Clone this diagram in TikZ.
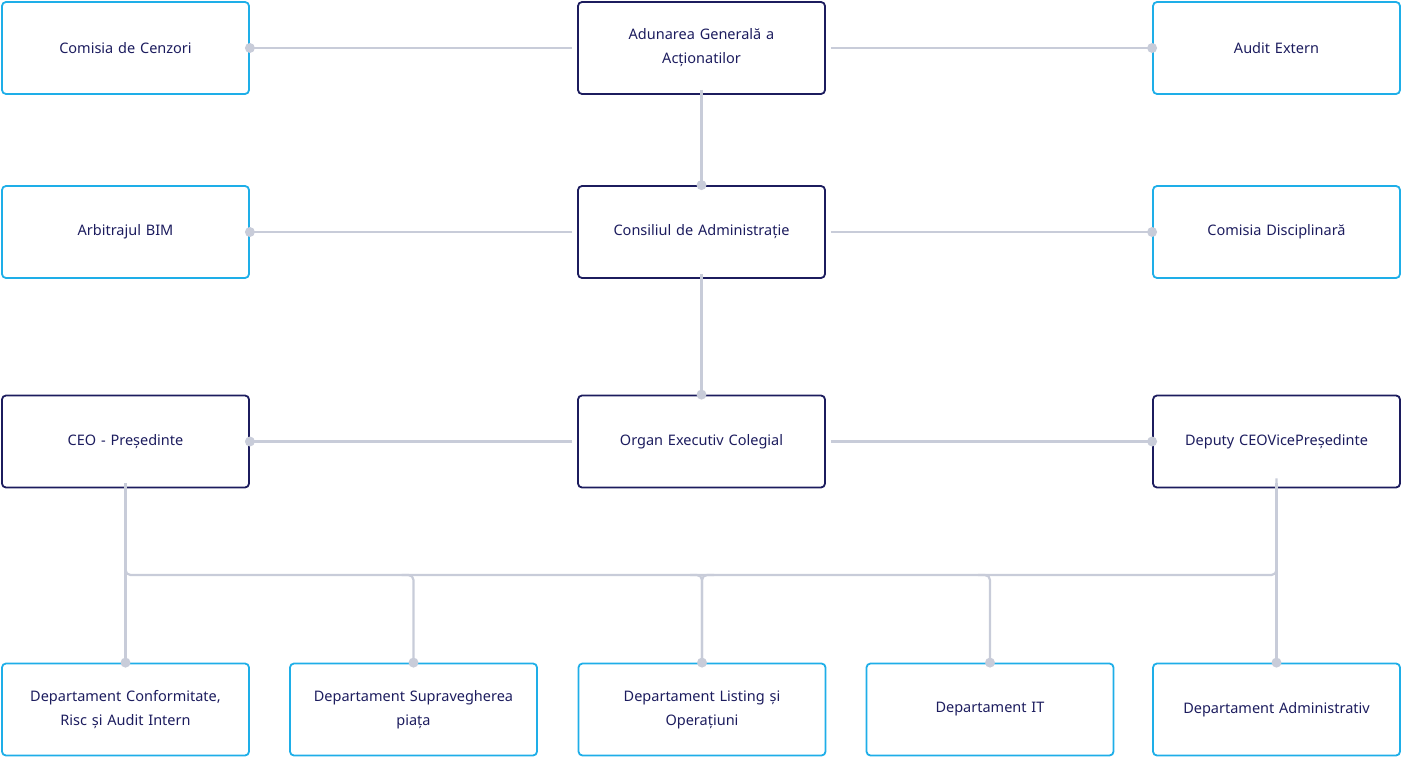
\documentclass[tikz,border=0pt]{standalone}
\usepackage{fontspec}
\setmainfont{Noto Sans}
\begin{document}
\begin{tikzpicture}[x=1pt,y=-1pt,
  box/.style={draw=#1,line width=1.8pt,rounded corners=4pt,minimum width=247pt,minimum height=92pt,inner sep=0pt,
    text width=235pt,align=center,text=navy,font=\fontsize{14.5}{24}\selectfont},
  cy/.style={box=cyanb}, nv/.style={box=navy},
  ln/.style={draw=lgray,line width=2.2pt},
  dot/.style={fill=lgray,circle,inner sep=0pt,minimum size=10pt}]
\definecolor{cyanb}{HTML}{1EAEE8}
\definecolor{navy}{HTML}{1C1C5E}
\definecolor{lgray}{HTML}{C8CCD9}
\useasboundingbox (0,0) rectangle (1402,757);
\node[cy] (cc) at (125.5,48) {Comisia de Cenzori};
\node[nv] (ag) at (701.5,48) {Adunarea Generală a\\Acționatilor};
\node[cy] (ae) at (1276.5,48) {Audit Extern};
\node[cy] (ab) at (125.5,232) {Arbitrajul BIM};
\node[nv] (ca) at (701.5,232) {Consiliul de Administrație};
\node[cy] (cd) at (1276.5,232) {Comisia Disciplinară};
\node[nv] (ceo) at (125.5,441.5) {CEO - Președinte};
\node[nv] (oe) at (701.5,441.5) {Organ Executiv Colegial};
\node[nv] (dp) at (1276.5,441.5) {Deputy CEOVicePreședinte};
\node[cy] (d1) at (125.5,709.5) {Departament Conformitate,\\Risc și Audit Intern};
\node[cy] (d2) at (413.5,709.5) {Departament Supravegherea\\piața};
\node[cy] (d3) at (702,709.5) {Departament Listing și\\Operațiuni};
\node[cy] (d4) at (990,709.5) {Departament IT};
\node[cy] (d5) at (1276.5,709.5) {Departament Administrativ};
% connectors
\draw[ln] ([xshift=-5pt]ag.west) -- (cc.east) node[dot]{};
\draw[ln] ([xshift=5pt]ag.east) -- (ae.west) node[dot]{};
\draw[ln] ([yshift=5pt]ag.south) -- (ca.north) node[dot]{};
\draw[ln] ([xshift=-5pt]ca.west) -- (ab.east) node[dot]{};
\draw[ln] ([xshift=5pt]ca.east) -- (cd.west) node[dot]{};
\draw[ln] ([yshift=5pt]ca.south) -- (oe.north) node[dot]{};
\draw[ln] ([xshift=-5pt]oe.west) -- (ceo.east) node[dot]{};
\draw[ln] ([xshift=5pt]oe.east) -- (dp.west) node[dot]{};
\coordinate (busl) at (125.5,575);
\coordinate (busr) at (1276.5,575);
\draw[ln] ([yshift=5pt]ceo.south) -- (d1.north) node[dot]{};
\draw[ln] ([yshift=5pt]dp.south) -- (d5.north) node[dot]{};
\draw[ln,rounded corners=5pt] ([yshift=5pt]ceo.south) |- (d2.north |- busl) -- (busr) |- ([yshift=5pt]dp.south);
\draw[ln,rounded corners=5pt] ([xshift=-12pt]d2.north |- busl) -| (d2.north) node[dot]{};
\draw[ln,rounded corners=5pt] ([xshift=-12pt]d3.north |- busl) -| (d3.north) node[dot]{};
\draw[ln,rounded corners=5pt] ([xshift=12pt]d3.north |- busl) -| (d3.north);
\draw[ln,rounded corners=5pt] ([xshift=-12pt]d4.north |- busl) -| (d4.north) node[dot]{};
\end{tikzpicture}
\end{document}
